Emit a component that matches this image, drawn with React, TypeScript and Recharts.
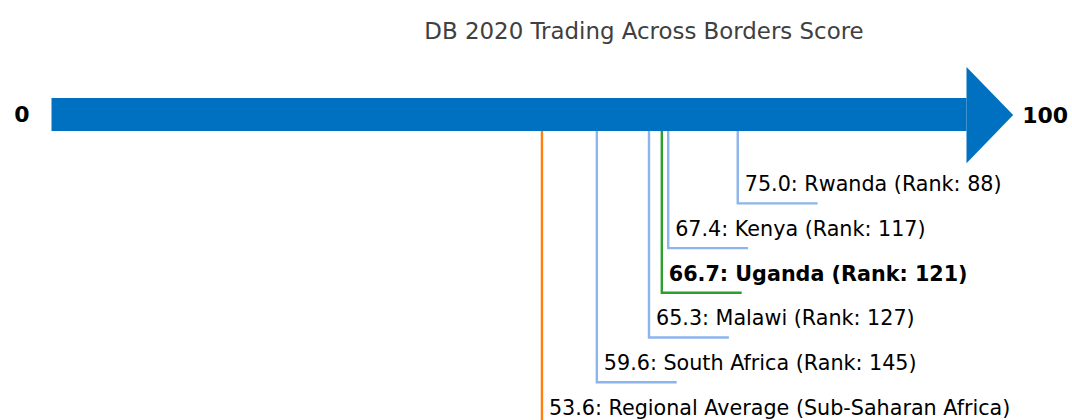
import React from 'react';
import { ComposedChart, Line, XAxis, YAxis, ReferenceArea } from 'recharts';

// ---- data ----
const countries = ['Rwanda', 'Kenya', 'Uganda', 'Malawi', 'South Africa', 'Regional Average (Sub-Saharan Africa)'];
const scores = [75.0, 67.4, 66.7, 65.3, 59.6, 53.6];
const ranks: (number | null)[] = [88, 117, 121, 127, 145, null];
const highlighted = 'Uganda';
const regional = 'Regional Average (Sub-Saharan Africa)';
const axisMin = 0;
const axisMax = 100;
const title = 'DB 2020 Trading Across Borders Score';

// ---- style constants ----
const W = 1072;
const H = 420;
const FONT = 'DejaVu Sans';
const ARROW = '#0070c0';
const BLUE = '#8cb4ee';
const GREEN = '#2ca02c';
const ORANGE = '#ff7f0e';
const ARROW_BOTTOM = 0.38;
const ARROW_TOP = -0.358;
const HEAD_TOP = -1.05;
const HEAD_BOTTOM = 1.1;
const HEAD_TIP = 105.1;
const ELBOW = 8.73;

const colorFor = (name: string) => (name === regional ? ORANGE : name === highlighted ? GREEN : BLUE);
const labelFor = (i: number) => {
  const name = countries[i];
  const s = scores[i].toFixed(1);
  return ranks[i] == null ? `${s}: ${name}` : `${s}: ${name} (Rank: ${ranks[i]})`;
};

const Head = (props: any) => {
  const { x, y, width, height } = props;
  return (
    <polygon
      points={`${x},${y} ${x + width},${y + height / 2} ${x},${y + height}`}
      fill={ARROW}
    />
  );
};

export default function App() {
  return (
    <div style={{ position: 'absolute', left: 0, top: 0, width: W, height: H, background: '#fff' }}>
      <div
        style={{
          position: 'absolute',
          left: 644,
          top: 14,
          transform: 'translateX(-50%)',
          whiteSpace: 'nowrap',
          fontFamily: FONT,
          fontSize: 22.9,
          color: '#404040',
          lineHeight: '34px',
        }}
      >
        {title}
      </div>
      <ComposedChart width={W} height={H} margin={{ top: 0, right: 105.5, bottom: 0, left: 51.5 }}>
        <XAxis type="number" dataKey="x" domain={[axisMin, axisMax]} allowDataOverflow hide />
        <YAxis type="number" dataKey="y" domain={[-2.55, 6.846]} reversed allowDataOverflow hide width={0} />
        <ReferenceArea
          x1={axisMin}
          x2={axisMax}
          y1={ARROW_TOP}
          y2={ARROW_BOTTOM}
          fill={ARROW}
          fillOpacity={1}
          stroke="none"
          ifOverflow="visible"
          label={{ value: String(axisMin), position: 'left', offset: 22, fill: '#000', fontSize: 22, fontWeight: 700, fontFamily: FONT }}
        />
        <ReferenceArea
          x1={axisMax}
          x2={HEAD_TIP}
          y1={HEAD_TOP}
          y2={HEAD_BOTTOM}
          ifOverflow="visible"
          shape={<Head />}
          label={{ value: String(axisMax), position: 'right', offset: 9, fill: '#000', fontSize: 22, fontWeight: 700, fontFamily: FONT }}
        />
        {countries.map((name, i) => {
          const level = i + 2;
          const data = [
            { x: scores[i], y: ARROW_BOTTOM },
            { x: scores[i], y: level },
            { x: scores[i] + ELBOW, y: level },
          ];
          const bold = name === highlighted;
          return (
            <Line
              key={name}
              data={data}
              dataKey="y"
              type="linear"
              stroke={colorFor(name)}
              strokeWidth={2.4}
              dot={false}
              activeDot={false}
              isAnimationActive={false}
              label={(p: any) =>
                p.index === 1 ? (
                  <text
                    key={`l-${name}`}
                    x={p.x + 7}
                    y={p.y - 12}
                    fontFamily={FONT}
                    fontSize={20.7}
                    fontWeight={bold ? 700 : 400}
                    fill="#000"
                  >
                    {labelFor(i)}
                  </text>
                ) : (
                  <g key={`e-${name}-${p.index}`} />
                )
              }
            />
          );
        })}
      </ComposedChart>
    </div>
  );
}
